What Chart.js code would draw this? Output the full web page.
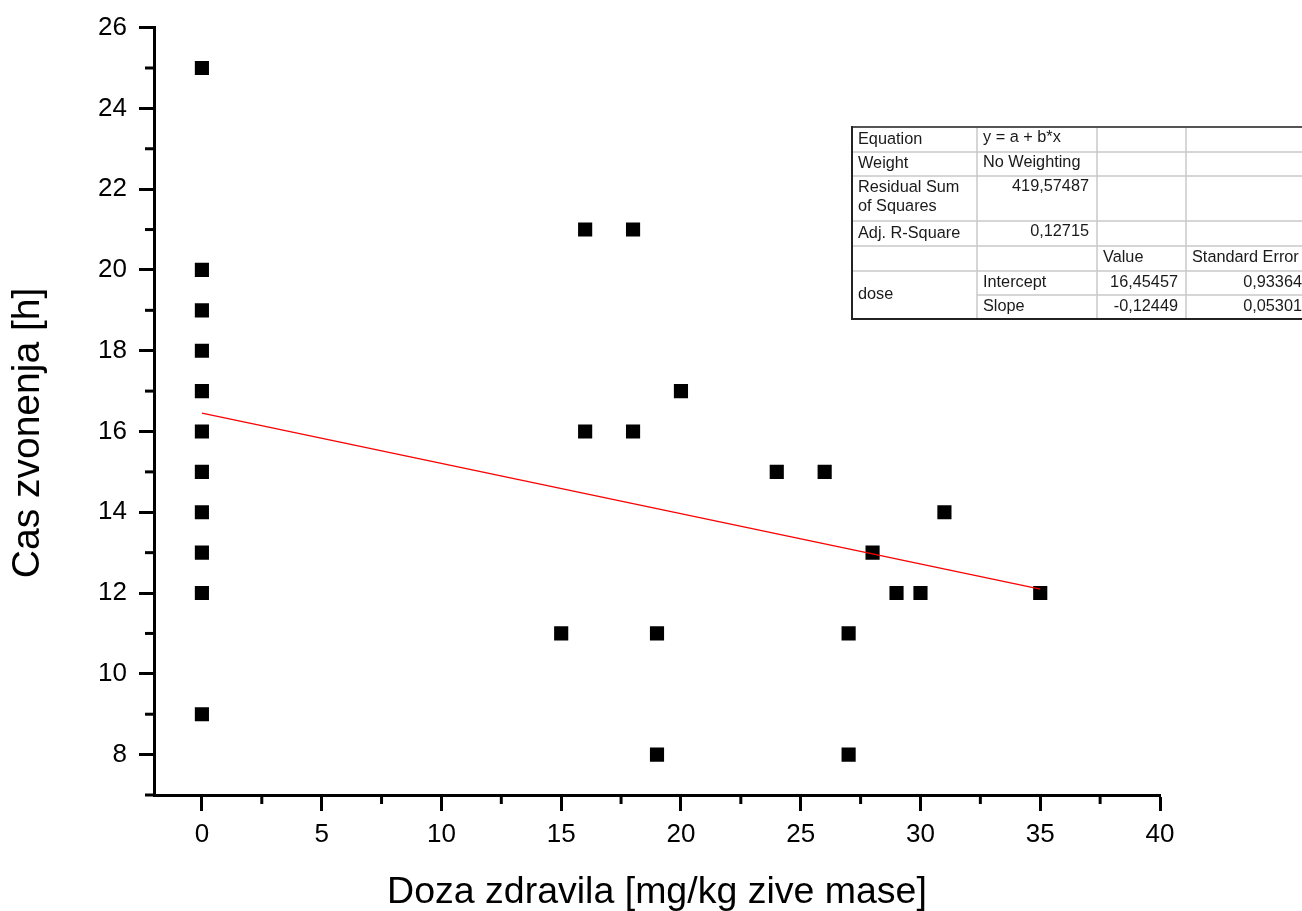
<!DOCTYPE html>
<html>
<head>
<meta charset="utf-8">
<script src="https://cdn.jsdelivr.net/npm/chart.js@4.4.0/dist/chart.umd.min.js"></script>
<style>
  html, body { margin: 0; background: #fff; }
</style>
</head>
<body>
<canvas id="chart" width="1302" height="911"></canvas>
<script>
// dose [mg/kg] and ringing time [h] for each animal
const doseValues = [0, 0, 0, 0, 0, 0, 0, 0, 0, 0, 0, 15, 16, 16, 18, 18, 19, 19, 20, 24, 26, 27, 27, 28, 29, 30, 31, 35];
const timeValues = [25, 20, 19, 18, 17, 16, 15, 14, 13, 12, 9, 11, 21, 16, 21, 16, 11, 8, 17, 15, 15, 11, 8, 13, 12, 12, 14, 12];

// linear fit end points
const fitDose = [0, 35];
const fitTime = [16.45457, 12.09742];

const xMajorTicks = [0, 5, 10, 15, 20, 25, 30, 35, 40];
const xMinorTicks = [2.5, 7.5, 12.5, 17.5, 22.5, 27.5, 32.5, 37.5];
const yMajorTicks = [8, 10, 12, 14, 16, 18, 20, 22, 24, 26];
const yMinorTicks = [7, 9, 11, 13, 15, 17, 19, 21, 23, 25];

// fit results table
const statLabels = ['Equation', 'Weight', 'Residual Sum\nof Squares', 'Adj. R-Square'];
const statValues = ['y = a + b*x', 'No Weighting', '419,57487', '0,12715'];
const coefNames = ['Intercept', 'Slope'];
const coefValues = ['16,45457', '-0,12449'];
const coefErrors = ['0,93364', '0,05301'];

const FONT = '"Liberation Sans", Arial, sans-serif';

const points = doseValues.map((x, i) => ({ x, y: timeValues[i] }));
const fitLine = fitDose.map((x, i) => ({ x, y: fitTime[i] }));

const minorTicks = {
  id: 'minorTicks',
  afterDraw(chart) {
    const { ctx, scales: { x, y } } = chart;
    ctx.save();
    ctx.strokeStyle = '#000';
    ctx.lineWidth = 3;
    xMinorTicks.forEach(v => {
      const px = x.getPixelForValue(v);
      ctx.beginPath();
      ctx.moveTo(px, x.top);
      ctx.lineTo(px, x.top + 9);
      ctx.stroke();
    });
    yMinorTicks.forEach(v => {
      const py = y.getPixelForValue(v);
      ctx.beginPath();
      ctx.moveTo(y.right, py);
      ctx.lineTo(y.right - 9, py);
      ctx.stroke();
    });
    ctx.restore();
  }
};

const fitTable = {
  id: 'fitTable',
  afterDraw(chart) {
    const ctx = chart.ctx;
    const cols = [852, 977, 1097, 1186, 1310];
    const rows = [127, 152, 176, 221, 246, 271, 295, 319];
    ctx.save();
    ctx.fillStyle = '#fff';
    ctx.fillRect(cols[0], rows[0], cols[4] - cols[0], rows[7] - rows[0]);

    // inner lines
    ctx.strokeStyle = '#c8c8c8';
    ctx.lineWidth = 1.5;
    const hLine = (y, x0, x1) => { ctx.beginPath(); ctx.moveTo(x0, y); ctx.lineTo(x1, y); ctx.stroke(); };
    const vLine = (x, y0, y1) => { ctx.beginPath(); ctx.moveTo(x, y0); ctx.lineTo(x, y1); ctx.stroke(); };
    for (let r = 1; r < 7; r++) hLine(rows[r], r === 6 ? cols[1] : cols[0], cols[4]);
    for (let c = 1; c < 4; c++) vLine(cols[c], rows[0], rows[7]);

    // outer frame
    ctx.strokeStyle = '#555';
    ctx.lineWidth = 2;
    hLine(rows[0], cols[0], cols[4]);
    ctx.strokeStyle = '#222';
    hLine(rows[7], cols[0], cols[4]);
    vLine(cols[0], rows[0] - 1, rows[7] + 1);

    ctx.fillStyle = '#1a1a1a';
    ctx.font = '16.3px ' + FONT;
    ctx.textBaseline = 'middle';
    const left = (t, c, y) => { ctx.textAlign = 'left'; ctx.fillText(t, cols[c] + 6, y); };
    const right = (t, c, y) => { ctx.textAlign = 'right'; ctx.fillText(t, cols[c + 1] - 8, y); };

    statLabels.forEach((label, i) => {
      const lines = label.split('\n');
      if (lines.length > 1) {
        left(lines[0], 0, rows[i] + 12);
        left(lines[1], 0, rows[i] + 31);
      } else {
        left(label, 0, (rows[i] + rows[i + 1]) / 2);
      }
      const vy = lines.length > 1 ? rows[i] + 11 : (rows[i] + rows[i + 1]) / 2 - 1.5;
      if (i < 2) left(statValues[i], 1, vy);
      else right(statValues[i], 1, vy);
    });
    left('Value', 2, (rows[4] + rows[5]) / 2 - 1);
    left('Standard Error', 3, (rows[4] + rows[5]) / 2 - 1);
    left('dose', 0, (rows[5] + rows[7]) / 2);
    coefNames.forEach((name, i) => {
      const y = (rows[5 + i] + rows[6 + i]) / 2;
      left(name, 1, y);
      right(coefValues[i], 2, y);
      right(coefErrors[i], 3, y);
    });
    ctx.restore();
  }
};

new Chart(document.getElementById('chart'), {
  type: 'scatter',
  data: {
    datasets: [
      {
        data: fitLine,
        showLine: true,
        borderColor: '#ff0000',
        borderWidth: 1.3,
        pointRadius: 0,
        order: 0
      },
      {
        data: points,
        pointStyle: 'rect',
        pointRadius: 10,
        backgroundColor: '#000',
        borderWidth: 0,
        order: 1
      }
    ]
  },
  options: {
    responsive: false,
    animation: false,
    layout: { padding: { top: 27, right: 142, left: 0, bottom: 0 } },
    plugins: { legend: { display: false }, tooltip: { enabled: false } },
    scales: {
      x: {
        type: 'linear',
        min: -2,
        max: 40,
        afterBuildTicks: s => { s.ticks = xMajorTicks.map(v => ({ value: v })); },
        afterFit: s => { s.height = 116; },
        ticks: {
          autoSkip: false,
          maxRotation: 0,
          padding: 8,
          color: '#000',
          font: { family: FONT, size: 26 }
        },
        grid: { drawOnChartArea: false, tickLength: 16, tickWidth: 3, tickColor: '#000' },
        border: { color: '#000', width: 3 },
        title: {
          display: true,
          text: 'Doza zdravila [mg/kg zive mase]',
          color: '#000',
          font: { family: FONT, size: 37.5 },
          padding: { top: 0, bottom: -4 }
        }
      },
      y: {
        type: 'linear',
        min: 7,
        max: 26,
        afterBuildTicks: s => { s.ticks = yMajorTicks.map(v => ({ value: v })); },
        afterFit: s => { s.width = 154; },
        ticks: {
          autoSkip: false,
          padding: 12,
          color: '#000',
          font: { family: FONT, size: 26 }
        },
        grid: { drawOnChartArea: false, tickLength: 15, tickWidth: 3, tickColor: '#000' },
        border: { color: '#000', width: 3 },
        title: {
          display: true,
          text: 'Cas zvonenja [h]    ',
          color: '#000',
          font: { family: FONT, size: 39 },
          padding: { top: 5, bottom: 0 }
        }
      }
    }
  },
  plugins: [minorTicks, fitTable]
});
</script>
</body>
</html>
